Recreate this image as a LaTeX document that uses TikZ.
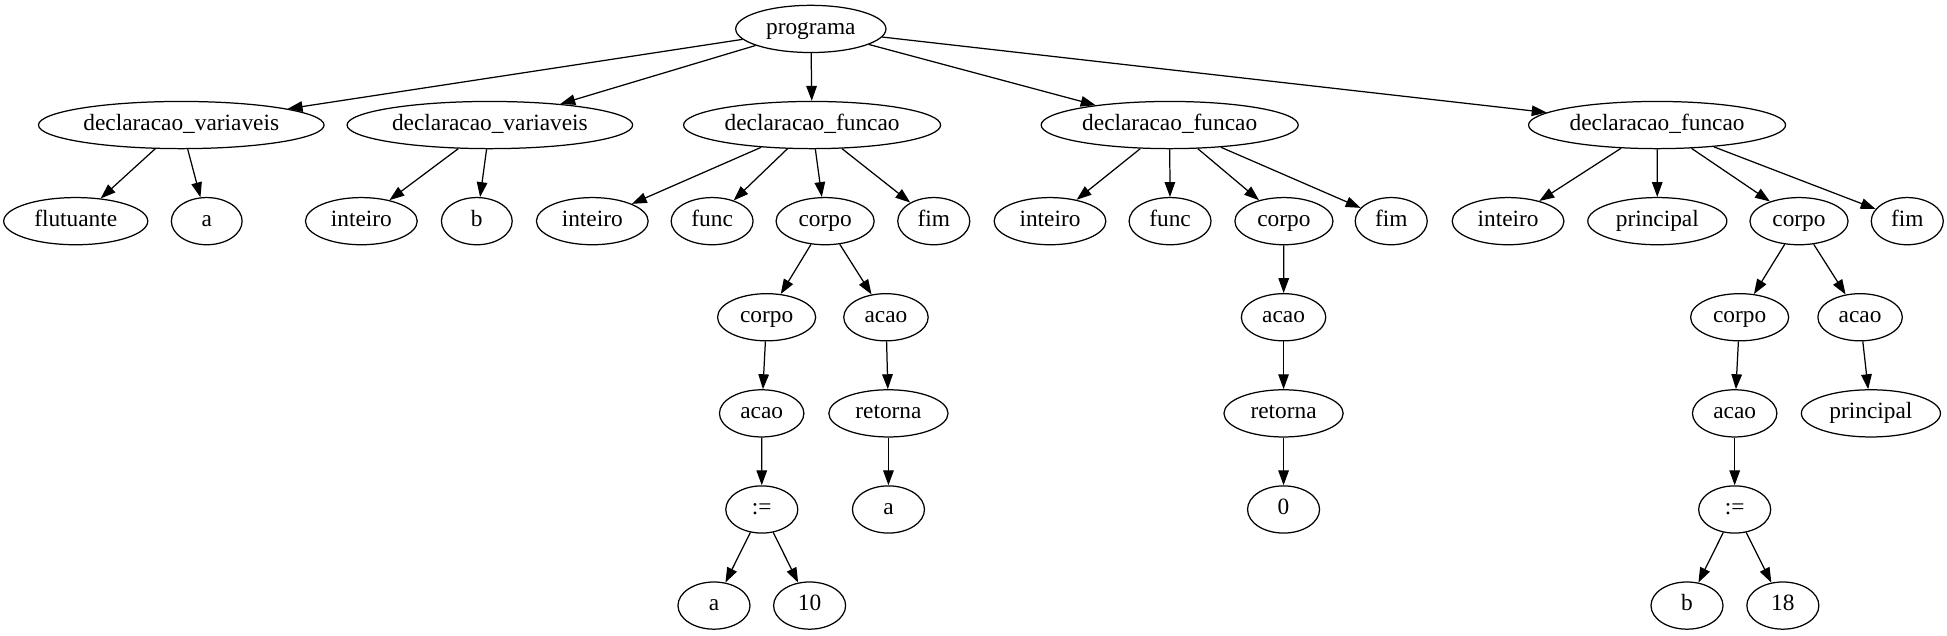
\documentclass[tikz,border=0pt]{standalone}
\usepackage{fontspec}
\setmainfont{Liberation Serif}
\usetikzlibrary{shapes.geometric, arrows.meta}

\begin{document}
\begin{tikzpicture}[x=1pt, y=1pt,
        tn/.style={draw, ellipse, line width=1pt, inner sep=0pt, minimum height=38pt, minimum width=#1,
            text height=12.6pt, text depth=4pt, font=\fontsize{18.8}{22}\selectfont},
        tn/.default=57pt,
        arr/.style={-{Triangle[length=12pt, width=8.5pt]}, line width=1pt}]
        \useasboundingbox (0,0) rectangle (1568,-511.4);

        % Nodes
        \node (prog) [tn=121pt] at (653,-23.3) {programa};

        \node (dvA) [tn=230pt] at (146,-100.7) {declaracao\_variaveis};
        \node (dvB) [tn=230pt] at (394.5,-100.7) {declaracao\_variaveis};
        \node (dfA) [tn=207pt] at (654,-100.7) {declaracao\_funcao};
        \node (dfB) [tn=207pt] at (942,-100.7) {declaracao\_funcao};
        \node (dfC) [tn=207pt] at (1334.5,-100.7) {declaracao\_funcao};

        \node (flut) [tn=116pt] at (61,-178.1) {flutuante};
        \node (aA) [tn] at (166.5,-178.1) {a};
        \node (intA) [tn=90pt] at (291,-178.1) {inteiro};
        \node (bA) [tn] at (384,-178.1) {b};
        \node (intB) [tn=90pt] at (477,-178.1) {inteiro};
        \node (funcA) [tn=66pt] at (573.5,-178.1) {func};
        \node (corpoA) [tn=79pt] at (664.5,-178.1) {corpo};
        \node (fimA) [tn=58pt] at (752,-178.1) {fim};
        \node (intC) [tn=90pt] at (845.6,-178.1) {inteiro};
        \node (funcB) [tn=66pt] at (942.3,-178.1) {func};
        \node (corpoB) [tn=79pt] at (1034,-178.1) {corpo};
        \node (fimB) [tn=58pt] at (1120.4,-178.1) {fim};
        \node (intD) [tn=90pt] at (1214.5,-178.1) {inteiro};
        \node (prinA) [tn=112pt] at (1334.7,-178.1) {principal};
        \node (corpoC) [tn=79pt] at (1448.8,-178.1) {corpo};
        \node (fimC) [tn=58pt] at (1536,-178.1) {fim};

        \node (corpoD) [tn=79pt] at (617.4,-255.5) {corpo};
        \node (acaoA) [tn=68pt] at (713.5,-255.5) {acao};
        \node (acaoB) [tn=68pt] at (1033.7,-255.5) {acao};
        \node (corpoE) [tn=79pt] at (1401,-255.5) {corpo};
        \node (acaoC) [tn=68pt] at (1498,-255.5) {acao};

        \node (acaoD) [tn=68pt] at (613.4,-332.9) {acao};
        \node (retA) [tn=96pt] at (715.5,-332.9) {retorna};
        \node (retB) [tn=96pt] at (1033.7,-332.9) {retorna};
        \node (acaoE) [tn=68pt] at (1397,-332.9) {acao};
        \node (prinB) [tn=112pt] at (1506.7,-332.9) {principal};

        \node (asgA) [tn=58pt] at (613.5,-410.3) {:=};
        \node (aB) [tn=58pt] at (715.5,-410.3) {a};
        \node (zero) [tn=58pt] at (1033.7,-410.3) {0};
        \node (asgB) [tn=58pt] at (1397,-410.3) {:=};

        \node (aC) [tn=58pt] at (575,-487.7) {a};
        \node (ten) [tn=58pt] at (652,-487.7) {10};
        \node (bB) [tn=58pt] at (1358.6,-487.7) {b};
        \node (eighteen) [tn=58pt] at (1435.8,-487.7) {18};

        % Arrows
        \foreach \a/\b in {prog/dvA, prog/dvB, prog/dfA, prog/dfB, prog/dfC,
                dvA/flut, dvA/aA, dvB/intA, dvB/bA,
                dfA/intB, dfA/funcA, dfA/corpoA, dfA/fimA,
                dfB/intC, dfB/funcB, dfB/corpoB, dfB/fimB,
                dfC/intD, dfC/prinA, dfC/corpoC, dfC/fimC,
                corpoA/corpoD, corpoA/acaoA, corpoD/acaoD, acaoD/asgA, asgA/aC, asgA/ten,
                acaoA/retA, retA/aB,
                corpoB/acaoB, acaoB/retB, retB/zero,
                corpoC/corpoE, corpoC/acaoC, corpoE/acaoE, acaoE/asgB, asgB/bB, asgB/eighteen,
                acaoC/prinB}
            \draw [arr] (\a) -- (\b);
\end{tikzpicture}
\end{document}
